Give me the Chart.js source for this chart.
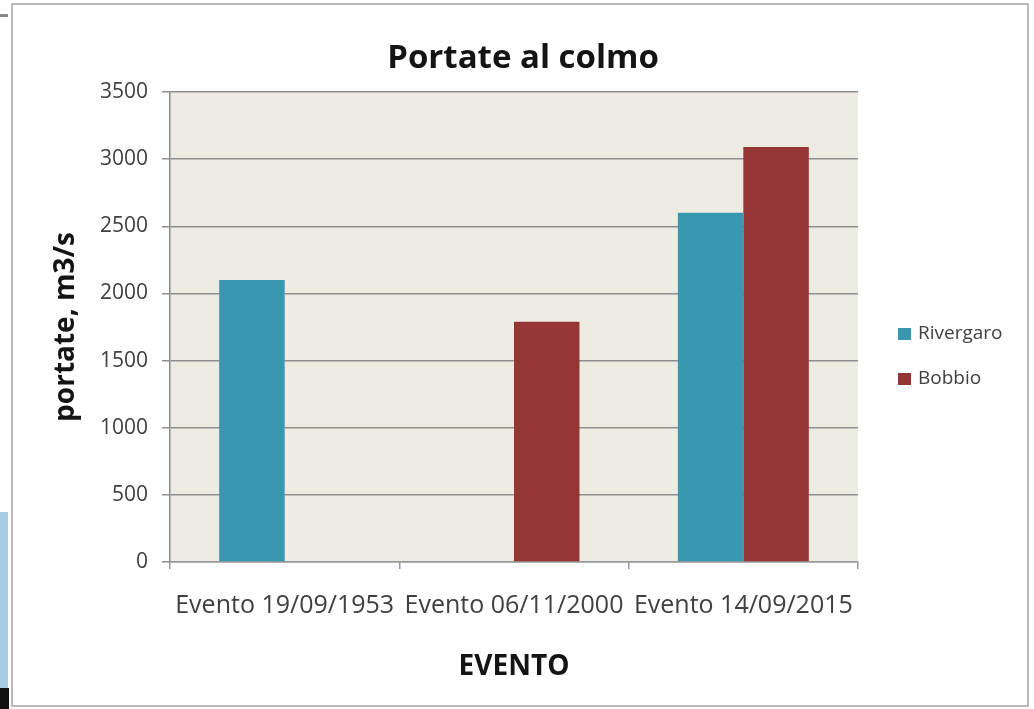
<!DOCTYPE html>
<html>
<head>
<meta charset="utf-8">
<script src="https://cdn.jsdelivr.net/npm/chart.js@4.4.1/dist/chart.umd.min.js"></script>
<style>
html,body{margin:0;padding:0;background:#fff;width:1034px;height:709px;overflow:hidden;position:relative}
#frame{position:absolute;left:11px;top:3px;width:1018px;height:704px;border:2px solid #b9b9b9;box-sizing:border-box;background:#fff}
#blue{position:absolute;left:0;top:512px;width:8px;height:178px;background:#a8cfe1}
#black{position:absolute;left:0;top:688px;width:9px;height:21px;background:#111}
#dash{position:absolute;left:0;top:14px;width:8px;height:3px;background:#888}
#c{position:absolute;left:0;top:0}
</style>
</head>
<body>
<div id="blue"></div><div id="black"></div><div id="dash"></div>
<div id="frame"></div>
<canvas id="c" width="1034" height="709"></canvas>
<script>
const chartTitle = 'Portate al colmo';
const categories = ['Evento 19/09/1953', 'Evento 06/11/2000', 'Evento 14/09/2015'];
const seriesNames = ['Rivergaro', 'Bobbio'];
const rivergaro = [2100, null, 2600];
const bobbio = [null, 1790, 3090];
const yMin = 0, yMax = 3500, yStep = 500;

const FONT = '"Open Sans", "Liberation Sans", sans-serif';

const plotBg = {
  id: 'plotBg',
  beforeDraw(chart) {
    const {ctx, chartArea: a} = chart;
    ctx.save();
    ctx.fillStyle = '#eeebe2';
    ctx.fillRect(a.left, a.top, a.right - a.left, a.bottom - a.top);
    ctx.restore();
  }
};

const titleAndLegend = {
  id: 'titleAndLegend',
  afterDraw(chart) {
    const {ctx, chartArea: a} = chart;
    ctx.save();
    // title, centred on the framed picture
    ctx.font = 'bold 33px ' + FONT;
    ctx.fillStyle = '#141414';
    ctx.textAlign = 'center';
    ctx.textBaseline = 'alphabetic';
    ctx.fillText(chartTitle, 523, 68);
    // legend
    ctx.font = '19px ' + FONT;
    ctx.textBaseline = 'middle';
    ctx.textAlign = 'left';
    chart.data.datasets.forEach((ds, i) => {
      const x = a.right + 40;
      const y = a.top + 242 + i * 45;
      ctx.fillStyle = ds.backgroundColor;
      ctx.fillRect(x, y - 6, 13, 12);
      ctx.fillStyle = '#404040';
      ctx.fillText(ds.label, x + 20, y);
    });
    ctx.restore();
  }
};

new Chart(document.getElementById('c'), {
  type: 'bar',
  data: {
    labels: categories,
    datasets: [
      {label: seriesNames[0], data: rivergaro, backgroundColor: '#3a97b2', categoryPercentage: 0.571, barPercentage: 1},
      {label: seriesNames[1], data: bobbio, backgroundColor: '#963634', categoryPercentage: 0.571, barPercentage: 1}
    ]
  },
  options: {
    responsive: false,
    animation: false,
    layout: {padding: {left: 40, right: 176, top: 92, bottom: 0}},
    plugins: {
      legend: {display: false},
      tooltip: {enabled: false},
      title: {display: false}
    },
    scales: {
      x: {
        offset: true,
        afterFit(s) { s.height = 147; },
        grid: {display: true, drawOnChartArea: false, drawTicks: true, tickLength: 7, color: '#9a9a9a', lineWidth: 1.5, offset: true},
        border: {display: true, color: '#9a9a9a', width: 1.5},
        ticks: {color: '#404040', font: {family: FONT, size: 25}, padding: 22, maxRotation: 0, autoSkip: false},
        title: {display: true, text: 'EVENTO', color: '#141414', font: {family: FONT, size: 28, weight: 'bold'}, padding: {top: 16, bottom: 25}}
      },
      y: {
        min: yMin,
        max: yMax,
        afterFit(s) { s.width = 130; },
        grid: {color: '#8f8f8f', lineWidth: 1.5, drawTicks: true, tickLength: 8},
        border: {display: true, color: '#8a8a8a', width: 1.5},
        ticks: {stepSize: yStep, color: '#404040', font: {family: FONT, size: 21}, padding: 14, callback: v => String(v)},
        title: {display: true, text: 'portate, m3/s', color: '#141414', font: {family: FONT, size: 28, weight: 'bold'}, padding: {top: 9, bottom: 0}}
      }
    }
  },
  plugins: [plotBg, titleAndLegend]
});
</script>
</body>
</html>
